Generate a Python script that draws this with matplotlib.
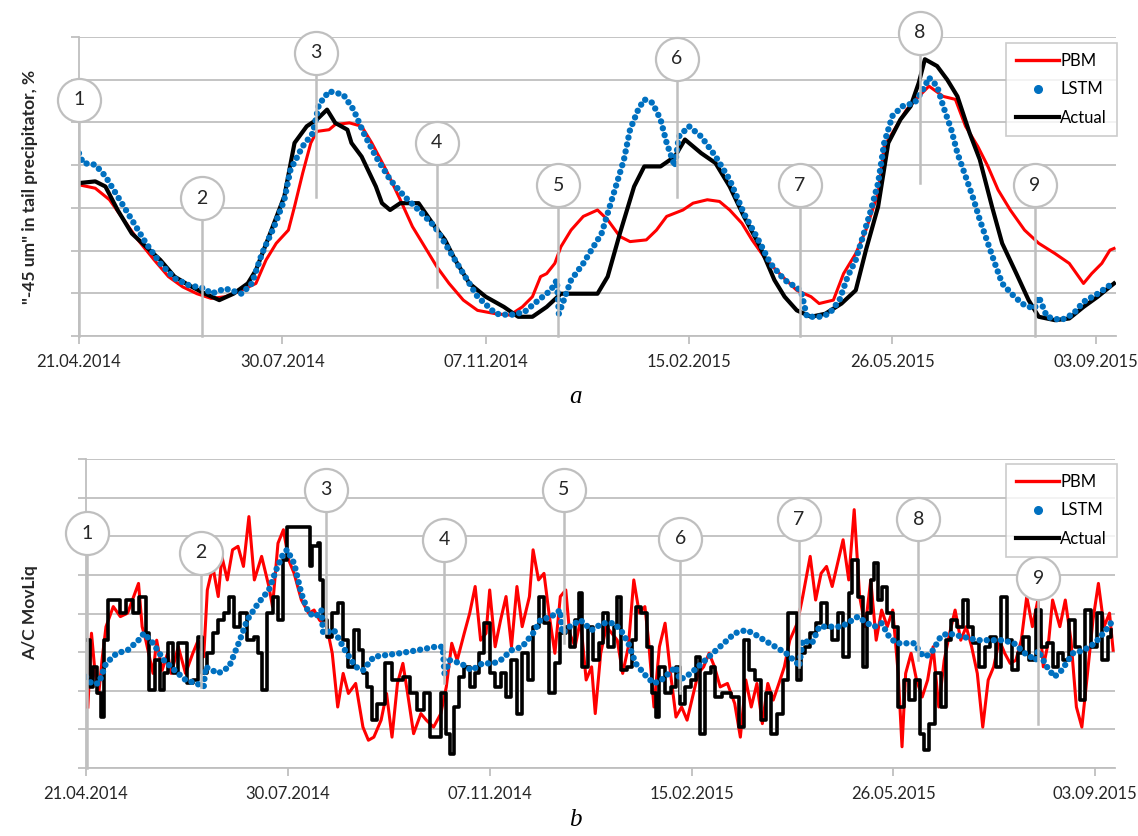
import numpy as np
import matplotlib
matplotlib.use('Agg')
import matplotlib.pyplot as plt
from matplotlib.lines import Line2D

plt.rcParams['font.family'] = ['Lato', 'DejaVu Sans']

# x = days since 21.04.2014, y = grid units (chart has no y values)
tick_days = [0, 100, 200, 300, 400, 500]
tick_labels = ['21.04.2014', '30.07.2014', '07.11.2014', '15.02.2015', '26.05.2015', '03.09.2015']

# ---------- panel a : "-45 um" in tail precipitator ----------
a_act_x = [0, 8, 13, 19, 26, 33, 40, 47, 54, 62, 69, 76, 83, 87, 94, 101, 106, 112, 117, 122, 126, 132, 134,
           139, 146, 149, 153, 158, 167, 175, 180, 185, 192, 200, 209, 216, 223, 230, 237, 255, 260, 266, 273,
           278, 286, 293, 298, 306, 313, 320, 327, 335, 342, 347, 353, 360, 367, 375, 382, 387, 393, 398, 404,
           409, 413, 416, 422, 427, 432, 438, 443, 449, 454, 461, 467, 472, 480, 487, 494, 501, 509]
a_act_y = [3.58, 3.62, 3.5, 2.95, 2.4, 2.09, 1.78, 1.39, 1.19, 0.99, 0.84, 0.99, 1.23, 1.54, 2.4, 3.27, 4.52, 4.91,
           5.07, 5.3, 4.99, 4.83, 4.52, 4.2, 3.5, 3.11, 2.95, 3.11, 3.11, 2.56, 2.25, 1.78, 1.23, 0.92, 0.68, 0.45,
           0.45, 0.68, 0.99, 0.99, 1.39, 2.4, 3.5, 3.97, 3.97, 4.2, 4.6, 4.28, 4.05, 3.5, 2.8, 2.09, 1.31, 0.92,
           0.6, 0.45, 0.52, 0.76, 1.07, 2.01, 3.03, 4.52, 5.07, 5.38, 5.93, 6.48, 6.32, 6.0, 5.61, 4.75, 4.13,
           3.03, 2.17, 1.46, 0.84, 0.45, 0.37, 0.41, 0.68, 0.92, 1.23]

a_pbm_x = [0, 8, 15, 22, 29, 37, 44, 51, 58, 65, 72, 80, 87, 92, 97, 103, 106, 110, 114, 117, 123, 126, 133, 139,
           144, 151, 158, 164, 169, 176, 182, 189, 196, 205, 212, 218, 223, 227, 230, 234, 237, 242, 248, 255,
           260, 266, 271, 279, 284, 289, 297, 302, 309, 315, 320, 326, 331, 338, 346, 353, 360, 364, 371, 376,
           382, 387, 393, 396, 402, 407, 413, 418, 425, 431, 436, 442, 447, 452, 458, 465, 472, 480, 487, 494,
           498, 503, 507, 509]
a_pbm_y = [3.54, 3.46, 3.19, 2.72, 2.25, 1.78, 1.39, 1.15, 0.99, 0.88, 0.92, 1.07, 1.23, 1.78, 2.17, 2.48, 3.03,
           3.81, 4.52, 4.79, 4.83, 4.95, 4.99, 4.91, 4.52, 3.89, 3.19, 2.56, 2.17, 1.62, 1.23, 0.84, 0.6, 0.52,
           0.49, 0.68, 0.92, 1.39, 1.46, 1.7, 2.09, 2.48, 2.8, 2.95, 2.72, 2.33, 2.21, 2.25, 2.48, 2.8, 2.95, 3.11,
           3.19, 3.15, 2.95, 2.64, 2.25, 1.78, 1.39, 1.07, 0.92, 0.76, 0.84, 1.46, 1.93, 2.48, 3.35, 4.44, 4.91,
           5.3, 5.61, 5.85, 5.61, 5.54, 4.91, 4.44, 3.97, 3.42, 2.95, 2.48, 2.17, 1.93, 1.7, 1.23, 1.46, 1.7,
           2.01, 2.05]

a_lstm_x = [0, 2, 8, 13, 19, 26, 33, 40, 47, 54, 62, 65, 72, 80, 85, 90, 96, 101, 104, 110, 115, 118, 123, 130,
            135, 140, 146, 153, 160, 167, 175, 182, 189, 196, 205, 212, 219, 226, 232, 235, 236, 242, 248, 253,
            257, 260, 264, 268, 271, 275, 278, 282, 286, 289, 293, 295, 300, 306, 313, 320, 327, 335, 340, 347,
            355, 358, 364, 369, 374, 378, 382, 385, 389, 393, 396, 400, 405, 411, 413, 416, 418, 422, 425, 429,
            432, 436, 440, 443, 447, 451, 454, 460, 465, 470, 472, 476, 483, 489, 494, 501, 507, 509]
a_lstm_y = [4.28, 4.05, 4.01, 3.74, 3.27, 2.72, 2.17, 1.7, 1.35, 1.19, 1.11, 0.99, 1.11, 0.99, 1.23, 1.93, 2.56,
            3.19, 3.89, 4.44, 4.75, 5.42, 5.73, 5.65, 5.3, 4.75, 4.2, 3.66, 3.27, 2.95, 2.56, 2.01, 1.46, 0.92,
            0.52, 0.49, 0.56, 0.84, 1.07, 1.31, 0.52, 1.31, 1.7, 2.09, 2.4, 2.87, 3.5, 4.13, 4.83, 5.3, 5.54,
            5.46, 5.07, 4.52, 3.97, 4.67, 4.91, 4.67, 4.21, 3.66, 2.87, 2.17, 1.7, 1.31, 1.07, 0.45, 0.45, 0.52,
            0.84, 1.39, 1.78, 2.25, 2.87, 3.58, 4.52, 5.15, 5.38, 5.46, 5.61, 5.85, 6.05, 5.85, 5.38, 4.83, 4.28,
            3.74, 3.19, 2.72, 2.17, 1.62, 1.23, 0.92, 0.72, 0.64, 0.92, 0.45, 0.37, 0.52, 0.8, 0.99, 1.19, 1.27]

# ---------- panel b : A/C MovLiq ----------
b_act_x = [0, 1.8, 3.6, 5.4, 7.2, 9, 10.8, 17, 19.7, 23.3, 26, 29.6, 31.4, 34.1, 36.8, 38.6, 40.4, 43, 45.7,
           50.2, 52.9, 55.6, 57.4, 60.1, 62.8, 65.5, 68.2, 70.9, 73.5, 76.2, 79.8, 83.4, 85.2, 87, 89.7, 92.4,
           95.1, 97.8, 99.6, 111.2, 112.1, 114.8, 115.7, 117.5, 119.3, 122, 124.7, 127.4, 130, 132.7, 135.4,
           137.2, 139, 141.7, 144.4, 148, 151.6, 157, 160.5, 164.1, 167.7, 170.4, 175.8, 178.5, 180.3, 182.1,
           184.8, 187.4, 190.1, 192.8, 194.6, 197.3, 200, 202.7, 205.4, 208.1, 210.8, 213.5, 216.1, 218.8,
           221.5, 224.2, 226.9, 229.6, 232.3, 235, 237.7, 239.6, 242.3, 244.1, 245.9, 248.7, 251.4, 254.1,
           255.9, 258.7, 261.4, 263.2, 265, 267.8, 270.5, 272.3, 275, 277.8, 280.5, 282.3, 284.1, 286.9, 289.6,
           292.3, 294.2, 296.9, 299.6, 302.3, 304.2, 306.9, 309.6, 311.4, 315.1, 319.6, 323.3, 326, 328.7,
           331.5, 334.2, 336.9, 339.6, 342.4, 345.1, 347.8, 352.4, 354.2, 356, 358.8, 361.5, 364.2, 366.9,
           369.7, 372.4, 375.1, 377.9, 379.7, 382.4, 385.1, 387, 388.8, 390.6, 392.4, 394.2, 397, 399.7, 402.4,
           405.2, 407.9, 410.6, 413.4, 415.2, 417.9, 420.6, 423.4, 426.1, 428.8, 431.6, 434.3, 437, 439.7,
           442.5, 445.2, 447.9, 450.7, 453.4, 456.1, 458.9, 461.6, 464.3, 467, 470.7, 473.4, 476.1, 478.9,
           481.6, 484.3, 487.1, 489.8, 492.5, 495.2, 498, 500.7, 503.4, 506.2, 508]
b_act_y = [3.31, 2.1, 2.62, 1.93, 1.32, 3.31, 4.35, 4.01, 4.35, 4.01, 4.44, 3.49, 2.02, 2.79, 2.02, 2.45, 3.23,
           2.45, 3.23, 2.19, 2.28, 3.4, 2.45, 2.97, 3.49, 3.83, 4.01, 4.44, 3.66, 4.01, 3.31, 3.4, 2.97, 2.02,
           4.01, 4.44, 3.83, 5.39, 6.25, 5.22, 5.74, 5.82, 4.87, 3.83, 3.4, 4.01, 4.26, 3.31, 2.62, 3.57, 3.05,
           2.45, 2.1, 1.24, 1.67, 2.71, 2.28, 2.36, 1.93, 1.5, 1.93, 0.8, 1.93, 0.89, 0.37, 1.58, 2.36, 2.62,
           2.1, 2.45, 2.97, 3.75, 2.45, 2.1, 2.45, 1.84, 2.79, 1.41, 2.97, 2.28, 3.66, 4.44, 3.75, 1.93, 2.71,
           3.49, 3.66, 3.14, 3.83, 4.52, 2.62, 3.66, 2.79, 3.23, 4.01, 3.14, 3.66, 4.44, 2.53, 2.62, 3.31, 4.18,
           4.01, 3.14, 1.93, 1.32, 2.62, 1.93, 2.1, 2.62, 1.67, 2.1, 2.28, 2.88, 0.89, 2.45, 2.62, 1.84, 1.93,
           1.84, 1.06, 3.31, 2.53, 2.28, 1.24, 1.93, 0.89, 1.41, 2.28, 4.01, 2.28, 2.97, 3.14, 3.49, 3.75, 4.26,
           3.66, 3.31, 4.01, 2.88, 4.52, 5.39, 4.44, 2.62, 4.01, 4.87, 5.3, 4.35, 4.7, 4.01, 3.66, 1.58, 2.28,
           1.76, 2.28, 0.89, 0.46, 1.15, 2.45, 1.58, 3.31, 3.83, 3.66, 4.35, 3.66, 3.23, 2.62, 3.14, 3.4, 2.62,
           4.44, 3.31, 2.53, 2.97, 3.4, 2.79, 4.09, 3.14, 3.23, 2.62, 2.97, 2.79, 3.83, 3.14, 1.76, 4.09, 3.14,
           4.01, 2.79, 3.4, 3.57]

b_pbm_x = [0.9, 2.7, 4.5, 6.3, 8.1, 9.9, 13.5, 17, 20.6, 24.2, 26, 27.8, 29.6, 33.2, 35, 37.7, 40.4, 42.2, 45.7,
           49.3, 52.9, 55.6, 58.3, 60.1, 62.8, 65.5, 67.3, 70, 72.6, 75.3, 78, 80.7, 83.4, 87, 90.6, 92.4, 95.1,
           97.8, 100.4, 103.1, 106.7, 110.3, 113, 115.7, 119.3, 122, 124.7, 127.4, 130, 133.6, 137.2, 139.9,
           142.6, 146.2, 148.9, 151.6, 154.3, 157, 159.6, 162.3, 165.9, 168.6, 172.2, 175.8, 178.5, 181.2,
           183.9, 187.4, 190.1, 192.8, 195.5, 198.2, 200, 202.7, 205.4, 208.1, 210.8, 213.5, 216.1, 219.7,
           221.5, 224.2, 226.9, 229.6, 232.3, 235, 237.7, 239.6, 242.3, 245, 247.8, 250.5, 252.3, 255, 257.8,
           260.5, 263.2, 265.9, 268.7, 271.4, 274.1, 276.9, 278.7, 281.4, 284.1, 286.9, 289.6, 292.3, 295.1,
           297.8, 300.5, 303.3, 306, 308.7, 311.4, 314.2, 317.8, 321.4, 324.2, 326.9, 329.6, 332.4, 335.1,
           337.8, 340.5, 343.3, 346, 348.7, 352.4, 355.1, 358.8, 361.5, 364.2, 366.9, 369.7, 372.4, 375.1,
           377.9, 380.6, 383.3, 386.1, 388.8, 391.5, 394.2, 397, 399.7, 402.4, 404.3, 406.1, 408.8, 411.5,
           414.3, 417, 419.7, 422.5, 425.2, 427.9, 430.6, 433.4, 436.1, 438.8, 441.6, 444.3, 447, 449.7, 452.5,
           455.2, 457.9, 460.7, 463.4, 466.1, 468.9, 471.6, 474.3, 477, 478.9, 482.5, 485.2, 488, 490.7, 493.4,
           496.2, 498.9, 501.6, 504.4, 507.1, 508.9]
b_pbm_y = [1.58, 3.49, 2.45, 1.93, 2.88, 3.66, 4.18, 3.92, 4.01, 4.52, 4.78, 3.66, 3.31, 2.45, 3.31, 2.53, 2.97,
           2.45, 3.14, 2.45, 2.97, 3.31, 2.88, 4.61, 5.22, 4.44, 5.48, 4.87, 5.65, 5.74, 5.22, 6.51, 4.87, 5.48,
           4.7, 4.18, 5.82, 6.17, 5.39, 5.04, 4.35, 4.01, 4.09, 3.83, 3.66, 2.97, 1.58, 2.45, 1.93, 2.19, 1.06,
           0.72, 0.8, 1.24, 1.93, 0.8, 2.19, 2.71, 1.84, 0.89, 1.41, 1.24, 1.06, 1.41, 2.1, 3.23, 2.79, 3.49,
           4.01, 4.7, 3.31, 3.49, 4.61, 3.14, 3.83, 4.44, 3.14, 4.7, 3.66, 4.44, 5.65, 4.87, 5.04, 3.92, 2.97,
           4.44, 4.61, 3.49, 3.14, 3.83, 2.28, 2.62, 1.41, 2.97, 3.66, 3.49, 3.31, 2.45, 3.14, 4.87, 4.01, 4.18,
           3.31, 1.58, 3.14, 3.75, 2.45, 1.32, 1.58, 1.24, 1.84, 2.45, 2.62, 2.97, 2.62, 2.1, 2.19, 1.67, 0.8,
           2.28, 1.58, 2.19, 1.15, 2.19, 1.76, 2.19, 2.62, 3.31, 3.75, 4.44, 5.48, 4.35, 5.04, 5.22, 4.7, 5.3,
           5.91, 4.87, 6.69, 4.44, 3.66, 4.87, 3.31, 4.09, 3.66, 4.09, 2.45, 0.55, 2.45, 2.97, 2.28, 1.84, 2.28,
           3.14, 1.58, 2.79, 3.49, 4.09, 3.31, 3.66, 3.14, 2.45, 1.06, 2.28, 2.62, 3.31, 2.97, 2.71, 2.79, 3.31,
           4.44, 3.66, 4.35, 2.62, 3.31, 4.35, 3.66, 4.35, 3.31, 1.58, 1.06, 2.45, 3.83, 4.78, 3.66, 4.01, 3.05]

b_lstm_x = [0, 2.7, 6.3, 9.9, 15.2, 20.6, 26, 28.7, 33.2, 38.6, 43.9, 49.3, 54.7, 58.3, 59.2, 65.5, 70.9, 76.2,
            79.8, 85.2, 90.6, 94.2, 97.8, 99.6, 103.1, 106.7, 110.3, 113.9, 116.6, 117.5, 122.9, 128.3, 133.6,
            137.2, 142.6, 148, 155.2, 164.1, 173.1, 176.7, 177.6, 180.3, 185.7, 191, 196.4, 201.8, 205.4, 210.8,
            216.1, 221.5, 225.1, 230.5, 235, 235.9, 239.6, 245, 250.5, 255.9, 261.4, 265, 268.7, 272.3, 277.8,
            281.4, 285.1, 288.7, 292.3, 294.2, 299.6, 305.1, 310.5, 316, 321.4, 326.9, 330.6, 336, 341.5, 346.9,
            352.4, 353.3, 355.1, 359.7, 363.3, 368.8, 374.2, 379.7, 382.4, 387, 390.6, 394.2, 397.9, 401.5,
            410.6, 413.4, 416.1, 419.7, 423.4, 427, 434.3, 441.6, 448.8, 454.3, 459.8, 465.2, 470.7, 471.6,
            476.1, 479.8, 483.4, 488.9, 494.3, 499.8, 505.3, 508.9]
b_lstm_y = [2.36, 2.19, 2.19, 2.71, 2.97, 3.05, 3.31, 3.49, 3.23, 2.79, 2.53, 2.28, 2.19, 2.1, 2.62, 2.45, 2.62,
            3.31, 3.83, 4.26, 4.61, 5.13, 5.56, 5.65, 5.3, 4.52, 4.01, 3.92, 4.09, 3.49, 3.57, 3.05, 2.62, 2.53,
            2.88, 2.92, 2.97, 3.05, 3.14, 3.14, 2.45, 2.79, 2.71, 2.53, 2.71, 2.71, 2.79, 3.05, 3.14, 3.49, 3.83,
            3.92, 4.09, 3.49, 3.66, 3.83, 3.57, 3.75, 3.75, 3.57, 3.23, 2.71, 2.36, 2.19, 2.28, 2.45, 2.62, 2.28,
            2.45, 2.71, 2.97, 3.23, 3.49, 3.57, 3.49, 3.31, 3.14, 2.97, 2.71, 2.62, 3.31, 3.23, 3.66, 3.66, 3.66,
            3.83, 3.92, 3.75, 3.66, 3.75, 3.4, 3.23, 3.23, 2.97, 2.88, 3.05, 3.4, 3.49, 3.4, 3.31, 3.31, 3.31,
            3.23, 2.97, 2.79, 3.05, 2.62, 2.36, 2.53, 2.97, 3.05, 3.23, 3.57, 3.83]

# callouts: number, day, circle centre, bottom of the leader line
a_call_n = ['1', '2', '3', '4', '5', '6', '7', '8', '9']
a_call_x = [0, 60.5, 116.6, 175.9, 235.7, 293.9, 354.6, 413.4, 470]
a_call_y = [5.53, 3.23, 6.63, 4.52, 3.53, 6.49, 3.53, 7.1, 3.53]
a_call_b = [0, 0, 3.26, 1.15, 0, 3.26, 0, 3.58, 0]

b_call_n = ['1', '2', '3', '4', '5', '6', '7', '8', '9']
b_call_x = [0.4, 57, 118.7, 177.6, 236.8, 294.5, 353.3, 412.4, 471.9]
b_call_y = [6.08, 5.58, 7.21, 5.91, 7.21, 5.93, 6.44, 6.44, 4.91]
b_call_b = [0, 2.1, 3.49, 2.19, 3.23, 1.93, 2.62, 2.79, 1.15]

RED = '#FF0000'
BLUE = '#0070C0'
GRID = '#BFBFBF'

fig = plt.figure(figsize=(11.38, 8.36), dpi=100)
ax_a = fig.add_axes([0.0694, 0.5981, 0.9113, 0.3576])
ax_b = fig.add_axes([0.0756, 0.0813, 0.9045, 0.3696])


def style_axes(ax, ntop):
    ax.set_xlim(0, 510)
    ax.set_ylim(0, ntop)
    ax.set_yticks(range(ntop + 1))
    ax.set_yticklabels([])
    ax.set_xticks(tick_days)
    ax.set_xticklabels(tick_labels, fontsize=12, color='#262626')
    ax.tick_params(axis='both', colors=GRID, length=6, width=1.3)
    ax.tick_params(axis='x', labelcolor='#262626', pad=7)
    ax.yaxis.grid(True, color=GRID, lw=1.3)
    ax.set_axisbelow(True)
    for s in ['top', 'right']:
        ax.spines[s].set_visible(False)
    for s in ['left', 'bottom']:
        ax.spines[s].set_color(GRID)
        ax.spines[s].set_linewidth(1.3)


def callouts(ax, nums, xs, ys, bots):
    for n, x, y, b in zip(nums, xs, ys, bots):
        ax.plot([x, x], [b, y], color=GRID, lw=1.8, zorder=6, clip_on=False)
        ax.plot(x, y, 'o', ms=31, mfc='white', mec=GRID, mew=1.6, zorder=7, clip_on=False)
        ax.text(x, y, n, ha='center', va='center', fontsize=14, color='#262626', zorder=8)


def legend(ax, anchor):
    handles = [Line2D([], [], color=RED, lw=2.4),
               Line2D([], [], color=BLUE, ls='none', marker='o', ms=5.5),
               Line2D([], [], color='black', lw=3)]
    lg = ax.legend(handles, ['PBM', 'LSTM', 'Actual'], loc='upper right', bbox_to_anchor=anchor,
                   bbox_transform=fig.transFigure, fontsize=12, frameon=True, fancybox=False,
                   edgecolor=GRID, handlelength=2.6, handletextpad=0.05, labelspacing=0.75,
                   borderpad=0.6, borderaxespad=0)
    lg.get_frame().set_linewidth(1.2)
    lg.set_zorder(10)


# panel a
style_axes(ax_a, 7)
ax_a.plot(a_pbm_x, a_pbm_y, color=RED, lw=2.2, zorder=3)
ax_a.plot(a_act_x, a_act_y, color='black', lw=3.0, zorder=4)
ax_a.plot(a_lstm_x, a_lstm_y, color=BLUE, lw=4.6, ls=(0, (0.01, 1.1)), dash_capstyle='round', zorder=5)
callouts(ax_a, a_call_n, a_call_x, a_call_y, a_call_b)
legend(ax_a, (0.9815, 0.9486))
fig.text(30 / 1138, 1 - 187 / 836, '"-45 um" in tail precipitator, %', rotation=90, ha='center', va='center',
         fontsize=12.5, fontweight='bold', color='#262626')

# panel b
style_axes(ax_b, 8)
ax_b.plot(b_pbm_x, b_pbm_y, color=RED, lw=2.2, zorder=3)
ax_b.plot(b_act_x, b_act_y, color='black', lw=2.6, drawstyle='steps-post', zorder=4)
ax_b.plot(b_lstm_x, b_lstm_y, color=BLUE, lw=4.6, ls=(0, (0.01, 1.1)), dash_capstyle='round', zorder=5)
callouts(ax_b, b_call_n, b_call_x, b_call_y, b_call_b)
legend(ax_b, (0.9815, 0.445))
fig.text(30 / 1138, 1 - 613 / 836, 'A/C MovLiq', rotation=90, ha='center', va='center',
         fontsize=12.5, fontweight='bold', color='#262626')

fig.text(575 / 1138, 1 - 397 / 836, 'a', ha='center', va='center', fontsize=18, style='italic',
         family='Liberation Serif')
fig.text(575 / 1138, 1 - 820 / 836, 'b', ha='center', va='center', fontsize=18, style='italic',
         family='Liberation Serif')

fig.savefig('out.png', dpi=100)
